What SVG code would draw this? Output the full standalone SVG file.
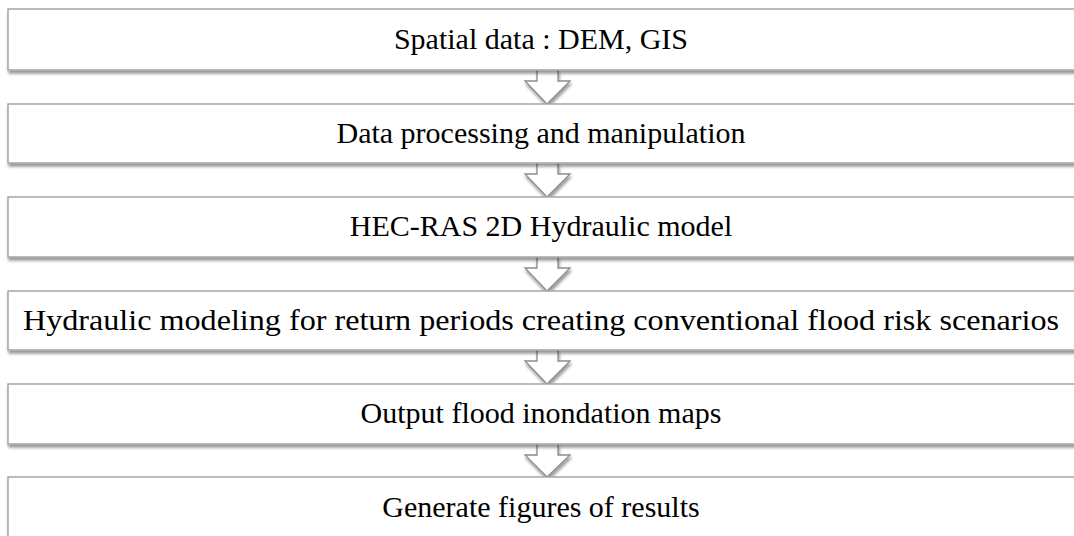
<svg xmlns="http://www.w3.org/2000/svg" width="1074" height="536" viewBox="0 0 1074 536">
<defs>
<filter id="sh" x="-5%" y="-20%" width="110%" height="150%">
<feDropShadow dx="1" dy="3" stdDeviation="1.8" flood-color="#000" flood-opacity="0.4"/>
</filter>
<style>
.box{fill:#fff;stroke:#a6a6a6;stroke-width:1.5;filter:url(#sh)}
.arr{fill:#fff;stroke:#8c8c8c;stroke-width:1.3;stroke-linejoin:miter;filter:url(#sh)}
.t{font-family:"Liberation Serif","Times New Roman",serif;font-size:30px;fill:#000;text-anchor:middle}
</style>
</defs>
<rect width="1074" height="536" fill="#fff"/>
<g id="connectors">
<path class="arr" d="M537,70 V81 H525 L547,104 L570,81 H558 V70"/>
<path class="arr" d="M537,163 V174 H525 L547,197 L570,174 H558 V163"/>
<path class="arr" d="M537,257 V268 H525 L547,291 L570,268 H558 V257"/>
<path class="arr" d="M537,350 V361 H525 L547,384 L570,361 H558 V350"/>
<path class="arr" d="M537,444 V455 H525 L547,477 L570,455 H558 V444"/>
</g>
<g id="n1"><rect class="box" x="8" y="9" width="1078" height="61"/><text class="t" x="541" y="49">Spatial data : DEM, GIS</text></g>
<g id="n2"><rect class="box" x="8" y="104" width="1078" height="59"/><text class="t" x="541" y="143">Data processing and manipulation</text></g>
<g id="n3"><rect class="box" x="8" y="197" width="1078" height="60"/><text class="t" x="541" y="236">HEC-RAS 2D Hydraulic model</text></g>
<g id="n4"><rect class="box" x="8" y="291" width="1078" height="59"/><text class="t" x="541" y="330" textLength="1036" lengthAdjust="spacingAndGlyphs">Hydraulic modeling for return periods creating conventional flood risk scenarios</text></g>
<g id="n5"><rect class="box" x="8" y="384" width="1078" height="60"/><text class="t" x="541" y="423">Output flood inondation maps</text></g>
<g id="n6"><rect class="box" x="8" y="477" width="1078" height="70"/><text class="t" x="541" y="517">Generate figures of results</text></g>
</svg>
